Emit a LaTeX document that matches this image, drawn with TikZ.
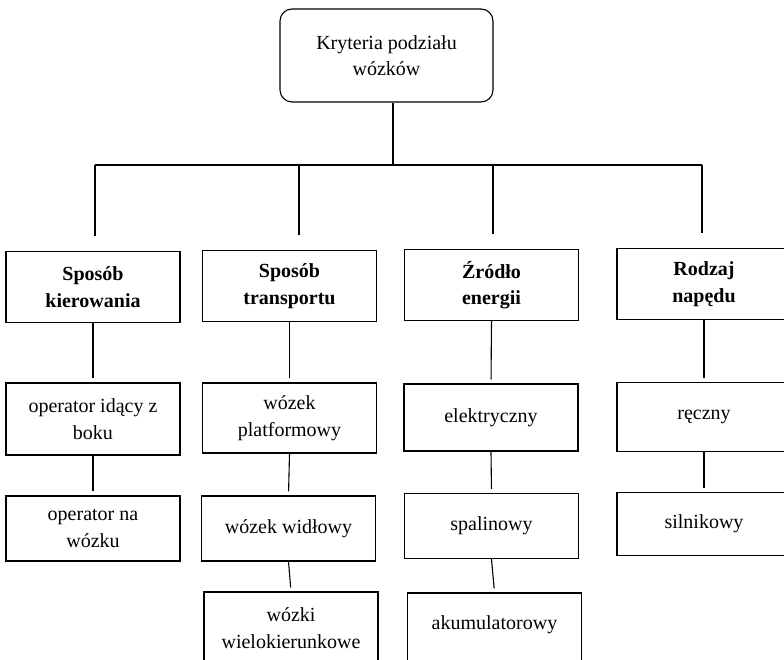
\documentclass[tikz,border=0pt]{standalone}
\usepackage{fontspec}
\setmainfont{Liberation Serif}

\begin{document}
\begin{tikzpicture}[
  x=1pt, y=-1pt,
  every node/.style={font=\fontsize{20}{26.5}\selectfont, align=center, inner sep=0pt},
  rootbox/.style={draw, line width=1.1pt, rounded corners=12pt,
                  minimum width=213pt, minimum height=93pt},
  catbox/.style={draw, line width=1.1pt, minimum width=174pt, minimum height=71pt,
                 font=\fontsize{20}{26.5}\selectfont\bfseries},
  leafbox/.style={draw, line width=1.1pt, minimum width=174pt, minimum height=68pt},
  conn/.style={line width=1.1pt, shorten >=4pt},
]
  \useasboundingbox (0,0) rectangle (784,660);
  \clip (0,0) rectangle (784,660);

  % --- Root ---
  \node[rootbox] (crit) at (386.5,55.5) {Kryteria podziału\\wózków};

  % --- Categories ---
  \node[catbox] (kier) at (93,287)    {Sposób\\kierowania};
  \node[catbox] (tran) at (289.5,286) {Sposób\\transportu};
  \node[catbox] (zrod) at (491.5,285) {Źródło\\energii};
  \node[catbox] (nap)  at (704,284)   {Rodzaj\\napędu};

  % --- Column 1 ---
  \node[leafbox, minimum height=72pt] (op1) at (93,419)   {operator idący z\\boku};
  \node[leafbox, minimum height=65pt] (op2) at (93,528.5) {operator na\\wózku};

  % --- Column 2 ---
  \node[leafbox, minimum height=70pt] (plat) at (289.5,418) {wózek\\platformowy};
  \node[leafbox, minimum height=65pt] (widl) at (288.5,528.5) {wózek widłowy};
  \node[leafbox, minimum height=72pt] (wiel) at (291,628) {wózki\\wielokierunkowe};

  % --- Column 3 ---
  \node[leafbox, minimum height=67pt] (elek) at (491,417.5) {elektryczny};
  \node[leafbox, minimum height=65pt] (spal) at (491.5,526) {spalinowy};
  \node[leafbox, minimum height=72pt, text height=14pt, text depth=14pt]
        (akum) at (494.5,629) {akumulatorowy};

  % --- Column 4 ---
  \node[leafbox, minimum height=69pt] (recz) at (704,417) {ręczny};
  \node[leafbox, minimum height=63pt] (siln) at (704,524) {silnikowy};

  % Bus from the root
  \coordinate (bus)  at (393,165);
  \coordinate (busL) at (95,165);
  \coordinate (busR) at (702,165);
  \draw[line width=1.1pt] (crit.south -| bus) -- (bus);
  \draw[line width=1.1pt] (busL) -- (busR);
  \foreach \n/\dx in {kier/2, tran/9.5, zrod/1.5, nap/-2}
    \draw[conn, shorten >=15pt] ([xshift=\dx pt]\n.north |- bus) -- ([xshift=\dx pt]\n.north);

  % Links inside the columns
  \draw[conn] (kier.south) -- (op1.north);
  \draw[conn] (op1.south)  -- (op2.north);
  \draw[conn] (tran.south) -- (plat.north);
  \draw[conn] (plat.south) -- (widl.north);
  \draw[conn] (widl.south) -- (wiel.north);
  \draw[conn] (zrod.south) -- (elek.north);
  \draw[conn] (elek.south) -- (spal.north);
  \draw[conn] (spal.south) -- (akum.north);
  \draw[conn] (nap.south)  -- (recz.north);
  \draw[conn] (recz.south) -- (siln.north);
\end{tikzpicture}
\end{document}
